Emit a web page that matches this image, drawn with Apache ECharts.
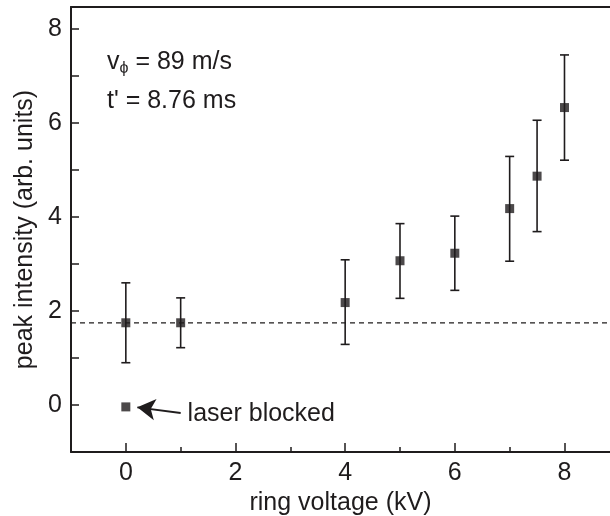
<!DOCTYPE html>
<html><head><meta charset="utf-8">
<script src="https://cdn.jsdelivr.net/npm/echarts@6/dist/echarts.min.js"></script>
<style>html,body{margin:0;padding:0;background:#fff}#c{width:610px;height:516px}</style>
</head><body><div id="c"></div>
<script>
const voltages = [0, 1, 4, 5, 6, 7, 7.5, 8];
const intensity = [1.75, 1.75, 2.18, 3.07, 3.23, 4.18, 4.87, 6.33];
const errLow = [0.90, 1.22, 1.29, 2.27, 2.44, 3.06, 3.69, 5.21];
const errHigh = [2.60, 2.28, 3.09, 3.86, 4.02, 5.29, 6.06, 7.45];
const blockedX = [0];
const blockedY = [-0.04];
const baseline = 1.75;
const xMajorTicks = [0,2,4,6,8];
const xMinorTicks = [1,3,5,7];
const xLabels = [0,2,4,6,8];
const yTicks = [-1,0,1,2,3,4,5,6,7,8];
const yLabels = [0,2,4,6,8];
const arrowFrom = [1.0, -0.17];
const arrowTo = [0.21, -0.05];

const FONT = '"Liberation Sans", Arial, Helvetica, sans-serif';
const FS = 25;
const C = '#1f1c1d';
const XMIN = -1, XMAX = 8.83;
const chart = echarts.init(document.getElementById('c'));
chart.setOption({
  animation: false,
  grid: {left: 71, right: 0, top: 7, bottom: 64, containLabel: false, outerBoundsMode: 'none'},
  xAxis: [{
    type: 'value', min: XMIN, max: XMAX, position: 'bottom',
    name: 'ring voltage (kV)', nameLocation: 'middle', nameGap: 34,
    nameTextStyle: {fontFamily: FONT, fontSize: FS, color: C},
    axisLine: {show: true, onZero: false, lineStyle: {color: C, width: 2}},
    axisTick: {show: true, inside: true, length: 9, customValues: xMajorTicks, lineStyle: {color: C, width: 1.5}},
    axisLabel: {customValues: xLabels, margin: 9, fontFamily: FONT, fontSize: FS, color: C},
    splitLine: {show: false}
  }, {
    type: 'value', min: XMIN, max: XMAX, position: 'top',
    axisLine: {show: true, onZero: false, lineStyle: {color: C, width: 2}},
    axisTick: {show: false}, axisLabel: {show: false}, splitLine: {show: false}
  }, {
    type: 'value', min: XMIN, max: XMAX, position: 'bottom',
    axisLine: {show: false, onZero: false},
    axisTick: {show: true, inside: true, length: 5, customValues: xMinorTicks, lineStyle: {color: C, width: 1.5}},
    axisLabel: {show: false}, splitLine: {show: false}
  }],
  yAxis: {
    type: 'value', min: -1, max: 8.47,
    name: 'peak intensity (arb. units)', nameLocation: 'middle', nameGap: 28,
    nameTextStyle: {fontFamily: FONT, fontSize: FS, color: C},
    axisLine: {show: true, onZero: false, lineStyle: {color: C, width: 2}},
    axisTick: {show: true, inside: true, length: 8, customValues: yTicks, lineStyle: {color: C, width: 1.5}},
    axisLabel: {customValues: yLabels, margin: 9, fontFamily: FONT, fontSize: FS, color: C},
    splitLine: {show: false}
  },
  series: [{
    type: 'line', xAxisIndex: 0,
    data: [[XMIN, baseline], [XMAX, baseline]],
    symbol: 'none', lineStyle: {color: C, width: 1.3, type: [5, 4]}, silent: true
  }, {
    type: 'custom', xAxisIndex: 0,
    data: voltages.map((v, i) => [v, errLow[i], errHigh[i]]),
    renderItem: function (params, api) {
      const lo = api.coord([api.value(0), api.value(1)]);
      const hi = api.coord([api.value(0), api.value(2)]);
      const w = 4.5;
      const st = {stroke: C, lineWidth: 1.6};
      return {type: 'group', children: [
        {type: 'line', shape: {x1: lo[0], y1: lo[1], x2: hi[0], y2: hi[1]}, style: st},
        {type: 'line', shape: {x1: lo[0]-w, y1: lo[1], x2: lo[0]+w, y2: lo[1]}, style: st},
        {type: 'line', shape: {x1: hi[0]-w, y1: hi[1], x2: hi[0]+w, y2: hi[1]}, style: st}
      ]};
    }
  }, {
    type: 'scatter', xAxisIndex: 0,
    data: voltages.map((v, i) => [v, intensity[i]]),
    symbol: 'rect', symbolSize: 9, itemStyle: {color: C}
  }, {
    type: 'scatter', xAxisIndex: 0,
    data: blockedX.map((v, i) => [v, blockedY[i]]),
    symbol: 'rect', symbolSize: 9, itemStyle: {color: C},
    markLine: {
      silent: true, symbol: ['none', 'arrow'], symbolSize: [16, 18],
      lineStyle: {color: C, width: 1.8, type: 'solid'},
      label: {show: true, position: 'start', formatter: 'laser blocked', fontFamily: FONT, fontSize: FS, color: C, distance: 7},
      data: [[{coord: arrowFrom}, {coord: arrowTo}]]
    }
  }],
  graphic: [{
    type: 'text', left: 107, top: 50,
    style: {
      text: '{a|v}{s|ϕ}{a| = 89 m/s}',
      rich: {
        a: {fontFamily: FONT, fontSize: FS, fill: C},
        s: {fontFamily: FONT, fontSize: 16, fill: C, verticalAlign: 'bottom', padding: [12, 0, 0, 0]}
      }
    }
  }, {
    type: 'text', left: 107, top: 89,
    style: {text: "t' = 8.76 ms", fontFamily: FONT, fontSize: FS, fill: C}
  }]
});
</script></body></html>
